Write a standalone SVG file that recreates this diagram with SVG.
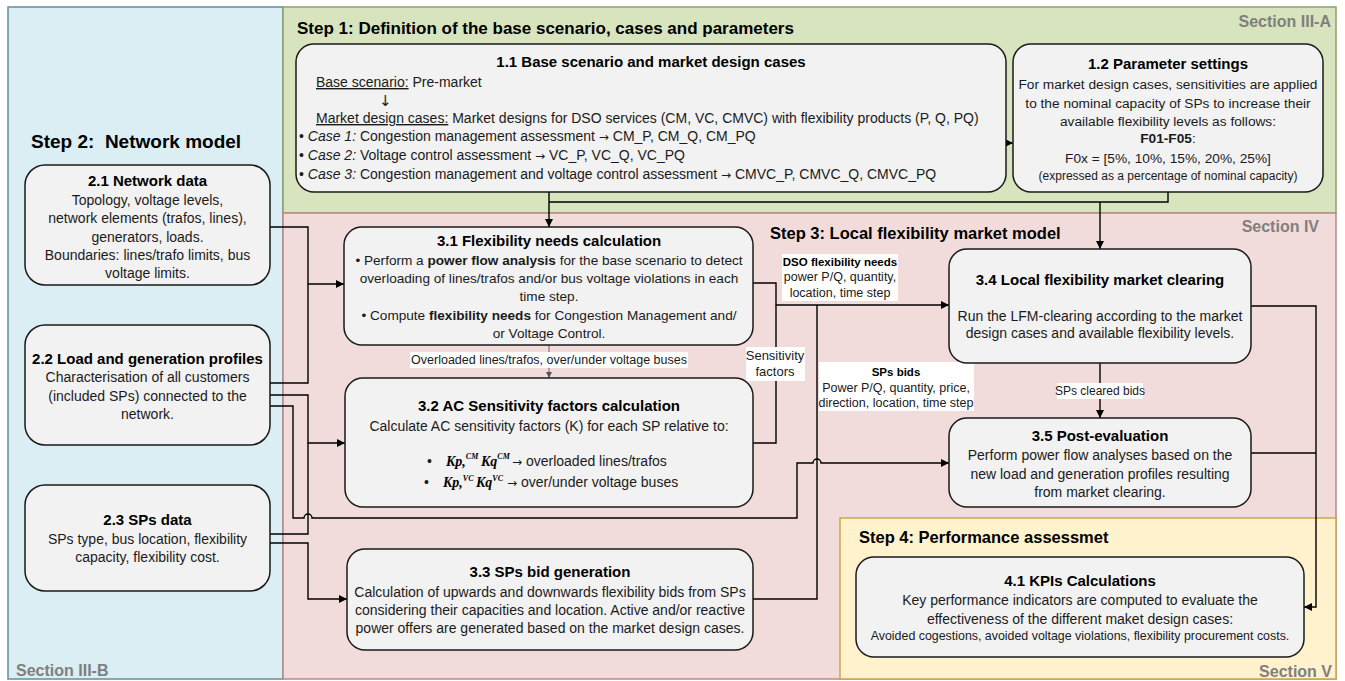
<svg xmlns="http://www.w3.org/2000/svg" width="1345" height="681" viewBox="0 0 1345 681">
<defs>
<style>
text{font-family:"Liberation Sans",Arial,sans-serif;fill:#1a1a1a}
.b{font-size:14px}
.t{font-size:15px;font-weight:bold;fill:#000}
.st{font-size:16.5px;font-weight:bold;fill:#000}
.sec{font-size:16px;font-weight:bold;fill:#7f7f7f}
.lb{font-size:12.5px}
.box{fill:#f2f2f2;stroke:#1a1a1a;stroke-width:1.5}
.c{fill:none;stroke:#000;stroke-width:1.4}
.lbg{fill:#fff}
.m{font-family:"Liberation Serif","Times New Roman",serif;font-style:italic;font-weight:bold;font-size:14px;fill:#000}
.ms{font-size:8px}
.ar{font-family:"DejaVu Sans",sans-serif;font-size:12px}
</style>
<marker id="ah" viewBox="0 0 10 10" refX="10" refY="5" markerWidth="9" markerHeight="8" markerUnits="userSpaceOnUse" orient="auto">
<path d="M0,0 L10,5 L0,10 z" fill="#000"/>
</marker>
<marker id="ahs" viewBox="0 0 10 10" refX="10" refY="5" markerWidth="6" markerHeight="6" markerUnits="userSpaceOnUse" orient="auto">
<path d="M0,0 L10,5 L0,10 z" fill="#555"/>
</marker>
</defs>

<g id="panels">
<rect x="8" y="7" width="275" height="672" fill="#DAEEF3" stroke="#5d8f9e" stroke-width="1.5"/>
<rect x="283" y="7" width="1053" height="206" fill="#D7E4BD" stroke="#8fa06f" stroke-width="1.5"/>
<rect x="283" y="213" width="1053" height="466" fill="#F2DCDB" stroke="#b98986" stroke-width="1.5"/>
<rect x="840" y="518" width="496" height="161" fill="#FFF2CC" stroke="#c9a64b" stroke-width="1.5"/>
<text class="st" x="297" y="34" style="font-size:17px">Step 1: Definition of the base scenario, cases and parameters</text>
<text class="sec" x="1331" y="27" text-anchor="end">Section III-A</text>
<text class="st" x="31" y="148" style="font-size:19px" xml:space="preserve">Step 2:  Network model</text>
<text class="sec" x="16" y="676">Section III-B</text>
<text class="st" x="770" y="239">Step 3: Local flexibility market model</text>
<text class="sec" x="1319" y="232" text-anchor="end">Section IV</text>
<text class="st" x="859" y="543">Step 4: Performance assessmet</text>
<text class="sec" x="1332" y="677" text-anchor="end">Section V</text>
</g>

<g id="connectors">
<path class="c" d="M1006,143 L1013,143" marker-end="url(#ah)"/>
<path class="c" d="M549,192 L549,227" marker-end="url(#ah)"/>
<path class="c" d="M1168,192 L1168,202 L549,202"/>
<path class="c" d="M1100,202 L1100,249" marker-end="url(#ah)"/>
<path class="c" d="M270,227 L308,227 L308,284 L344,284" marker-end="url(#ah)"/>
<path class="c" d="M270,383 L308,383 L308,284"/>
<path class="c" d="M270,395 L308,395 L308,443 L345,443" marker-end="url(#ah)"/>
<path class="c" d="M270,534 L308,534 L308,443"/>
<path class="c" d="M270,543 L308,543 L308,599 L347,599" marker-end="url(#ah)"/>
<path class="c" d="M270,406 L293,406 L293,518 L304,518 A4,4 0 0 1 312,518 L797,518 L797,463 L813,463 A4,4 0 0 1 821,463 L949,463" marker-end="url(#ah)"/>
<path class="c" d="M753,283 L776,283 L776,305 L949,305" marker-end="url(#ah)"/>
<path class="c" d="M753,443 L776,443 L776,305"/>
<path class="c" d="M753,599 L817,599 L817,305"/>
<path class="c" d="M1100,363 L1100,418" marker-end="url(#ah)"/>
<path class="c" d="M1251,306 L1316,306 L1316,607 L1304,607" marker-end="url(#ah)"/>
<path class="c" d="M1251,453 L1316,453"/>
<path d="M549,345 L549,378" fill="none" stroke="#666" stroke-width="1" marker-end="url(#ahs)"/>
<rect class="lbg" x="410" y="352" width="278" height="16"/>
<text class="lb" x="549" y="364" text-anchor="middle">Overloaded lines/trafos, over/under voltage buses</text>
<rect class="lbg" x="746" y="347" width="59" height="34"/>
<text class="lb" x="775" y="360" text-anchor="middle" style="font-size:13px">Sensitivity</text>
<text class="lb" x="775" y="376" text-anchor="middle" style="font-size:13px">factors</text>
<rect class="lbg" x="782" y="254" width="116" height="47"/>
<text x="840" y="266" text-anchor="middle" style="font-size:11.5px;font-weight:bold;fill:#000">DSO flexibility needs</text>
<text class="lb" x="840" y="281" text-anchor="middle">power P/Q, quantity,</text>
<text class="lb" x="840" y="297" text-anchor="middle">location, time step</text>
<rect class="lbg" x="819" y="362" width="155" height="49"/>
<text x="896" y="376" text-anchor="middle" style="font-size:11.5px;font-weight:bold;fill:#000">SPs bids</text>
<text class="lb" x="896" y="392" text-anchor="middle">Power P/Q, quantity, price,</text>
<text class="lb" x="896" y="407" text-anchor="middle">direction, location, time step</text>
<rect class="lbg" x="1057" y="383" width="86" height="16"/>
<text class="lb" x="1100" y="395" text-anchor="middle" style="font-size:12px">SPs cleared bids</text>
</g>

<g id="n11">
<rect class="box" x="296" y="44" width="710" height="148" rx="18"/>
<text class="t" x="651" y="67" text-anchor="middle">1.1 Base scenario and market design cases</text>
<text class="b" x="316" y="87"><tspan text-decoration="underline">Base scenario:</tspan> Pre-market</text>
<text class="ar" x="379" y="106" style="font-size:15px">↓</text>
<text class="b" x="316" y="123"><tspan text-decoration="underline">Market design cases:</tspan> Market designs for DSO services (CM, VC, CMVC) with flexibility products (P, Q, PQ)</text>
<text class="b" x="299" y="141">• <tspan font-style="italic">Case 1:</tspan> Congestion management assessment  <tspan class="ar">→</tspan>  CM_P, CM_Q, CM_PQ</text>
<text class="b" x="299" y="160">• <tspan font-style="italic">Case 2:</tspan> Voltage control assessment  <tspan class="ar">→</tspan>  VC_P, VC_Q, VC_PQ</text>
<text class="b" x="299" y="179">• <tspan font-style="italic">Case 3:</tspan> Congestion management and voltage control assessment  <tspan class="ar">→</tspan>  CMVC_P, CMVC_Q, CMVC_PQ</text>
</g>

<g id="n12">
<rect class="box" x="1013" y="44" width="310" height="148" rx="18"/>
<text class="t" x="1168" y="69" text-anchor="middle">1.2 Parameter settings</text>
<text class="b" x="1168" y="89" text-anchor="middle" style="font-size:13.7px">For market design cases, sensitivities are applied</text>
<text class="b" x="1168" y="108" text-anchor="middle" style="font-size:13.7px">to the nominal capacity of SPs to increase their</text>
<text class="b" x="1168" y="126" text-anchor="middle" style="font-size:13.7px">available flexibility levels as follows:</text>
<text class="b" x="1168" y="143" text-anchor="middle" style="font-size:13.7px"><tspan font-weight="bold">F01-F05</tspan>:</text>
<text class="b" x="1168" y="163" text-anchor="middle" style="font-size:13.7px">F0x = [5%, 10%, 15%, 20%, 25%]</text>
<text x="1168" y="180" text-anchor="middle" style="font-size:12px">(expressed as a percentage of nominal capacity)</text>
</g>

<g id="n21">
<rect class="box" x="25" y="165" width="245" height="120" rx="20"/>
<text class="t" x="147.5" y="186" text-anchor="middle">2.1 Network data</text>
<text class="b" x="147.5" y="205" text-anchor="middle">Topology, voltage levels,</text>
<text class="b" x="147.5" y="223" text-anchor="middle">network elements (trafos, lines),</text>
<text class="b" x="147.5" y="242" text-anchor="middle">generators, loads.</text>
<text class="b" x="147.5" y="260" text-anchor="middle">Boundaries: lines/trafo limits, bus</text>
<text class="b" x="147.5" y="278" text-anchor="middle">voltage limits.</text>
</g>

<g id="n22">
<rect class="box" x="25" y="325" width="245" height="120" rx="20"/>
<text class="t" x="147.5" y="364" text-anchor="middle">2.2 Load and generation profiles</text>
<text class="b" x="147.5" y="382" text-anchor="middle">Characterisation of all customers</text>
<text class="b" x="147.5" y="401" text-anchor="middle">(included SPs) connected to the</text>
<text class="b" x="147.5" y="419" text-anchor="middle">network.</text>
</g>

<g id="n23">
<rect class="box" x="25" y="485" width="245" height="106" rx="20"/>
<text class="t" x="147.5" y="525" text-anchor="middle">2.3 SPs data</text>
<text class="b" x="147.5" y="544" text-anchor="middle">SPs type, bus location, flexibility</text>
<text class="b" x="147.5" y="562" text-anchor="middle">capacity, flexibility cost.</text>
</g>

<g id="n31">
<rect class="box" x="344" y="227" width="409" height="118" rx="18"/>
<text class="t" x="549" y="246" text-anchor="middle">3.1 Flexibility needs calculation</text>
<text class="b" x="549" y="265" text-anchor="middle" style="font-size:13.6px">• Perform a <tspan font-weight="bold">power flow analysis</tspan> for the base scenario to detect</text>
<text class="b" x="549" y="283" text-anchor="middle" style="font-size:13.6px">overloading of lines/trafos and/or bus voltage violations in each</text>
<text class="b" x="549" y="301" text-anchor="middle" style="font-size:13.6px">time step.</text>
<text class="b" x="549" y="320" text-anchor="middle" style="font-size:13.6px">• Compute <tspan font-weight="bold">flexibility needs</tspan> for Congestion Management and/</text>
<text class="b" x="549" y="338" text-anchor="middle" style="font-size:13.6px">or Voltage Control.</text>
</g>

<g id="n32">
<rect class="box" x="345" y="378" width="408" height="129" rx="18"/>
<text class="t" x="549" y="411" text-anchor="middle">3.2 AC Sensitivity factors calculation</text>
<text class="b" x="549" y="431" text-anchor="middle">Calculate AC sensitivity factors (K) for each SP relative to:</text>
<text class="b" x="427" y="466">•<tspan class="m" x="446" y="466">Kp,</tspan><tspan class="m ms" y="459">CM</tspan><tspan class="m" x="481" y="466">Kq</tspan><tspan class="m ms" y="459">CM</tspan><tspan class="ar" x="512" y="466">→</tspan><tspan y="466"> overloaded lines/trafos</tspan></text>
<text class="b" x="424" y="487">•<tspan class="m" x="443" y="487">Kp,</tspan><tspan class="m ms" y="481">VC</tspan><tspan class="m" x="476" y="487">Kq</tspan><tspan class="m ms" y="481">VC</tspan><tspan class="ar" x="507" y="487">→</tspan><tspan y="487"> over/under voltage buses</tspan></text>
</g>

<g id="n33">
<rect class="box" x="347" y="549" width="406" height="101" rx="18"/>
<text class="t" x="550" y="577" text-anchor="middle">3.3 SPs bid generation</text>
<text class="b" x="550" y="597" text-anchor="middle">Calculation of upwards and downwards flexibility bids from SPs</text>
<text class="b" x="550" y="615" text-anchor="middle">considering their capacities and location. Active and/or reactive</text>
<text class="b" x="550" y="633" text-anchor="middle">power offers are generated based on the market design cases.</text>
</g>

<g id="n34">
<rect class="box" x="949" y="249" width="302" height="114" rx="18"/>
<text class="t" x="1100" y="285" text-anchor="middle">3.4 Local flexibility market clearing</text>
<text class="b" x="1100" y="321" text-anchor="middle">Run the LFM-clearing according to the market</text>
<text class="b" x="1100" y="338" text-anchor="middle">design cases and available flexibility levels.</text>
</g>

<g id="n35">
<rect class="box" x="949" y="418" width="302" height="89" rx="18"/>
<text class="t" x="1100" y="441" text-anchor="middle">3.5 Post-evaluation</text>
<text class="b" x="1100" y="460" text-anchor="middle">Perform power flow analyses based on the</text>
<text class="b" x="1100" y="479" text-anchor="middle">new load and generation profiles resulting</text>
<text class="b" x="1100" y="497" text-anchor="middle">from market clearing.</text>
</g>

<g id="n41">
<rect class="box" x="856" y="557" width="448" height="100" rx="18"/>
<text class="t" x="1080" y="586" text-anchor="middle">4.1 KPIs Calculations</text>
<text class="b" x="1080" y="605" text-anchor="middle">Key performance indicators are computed to evaluate the</text>
<text class="b" x="1080" y="624" text-anchor="middle">effectiveness of the different maket design cases:</text>
<text x="1080" y="640" text-anchor="middle" style="font-size:12.4px">Avoided cogestions, avoided voltage violations, flexibility procurement costs.</text>
</g>
</svg>
